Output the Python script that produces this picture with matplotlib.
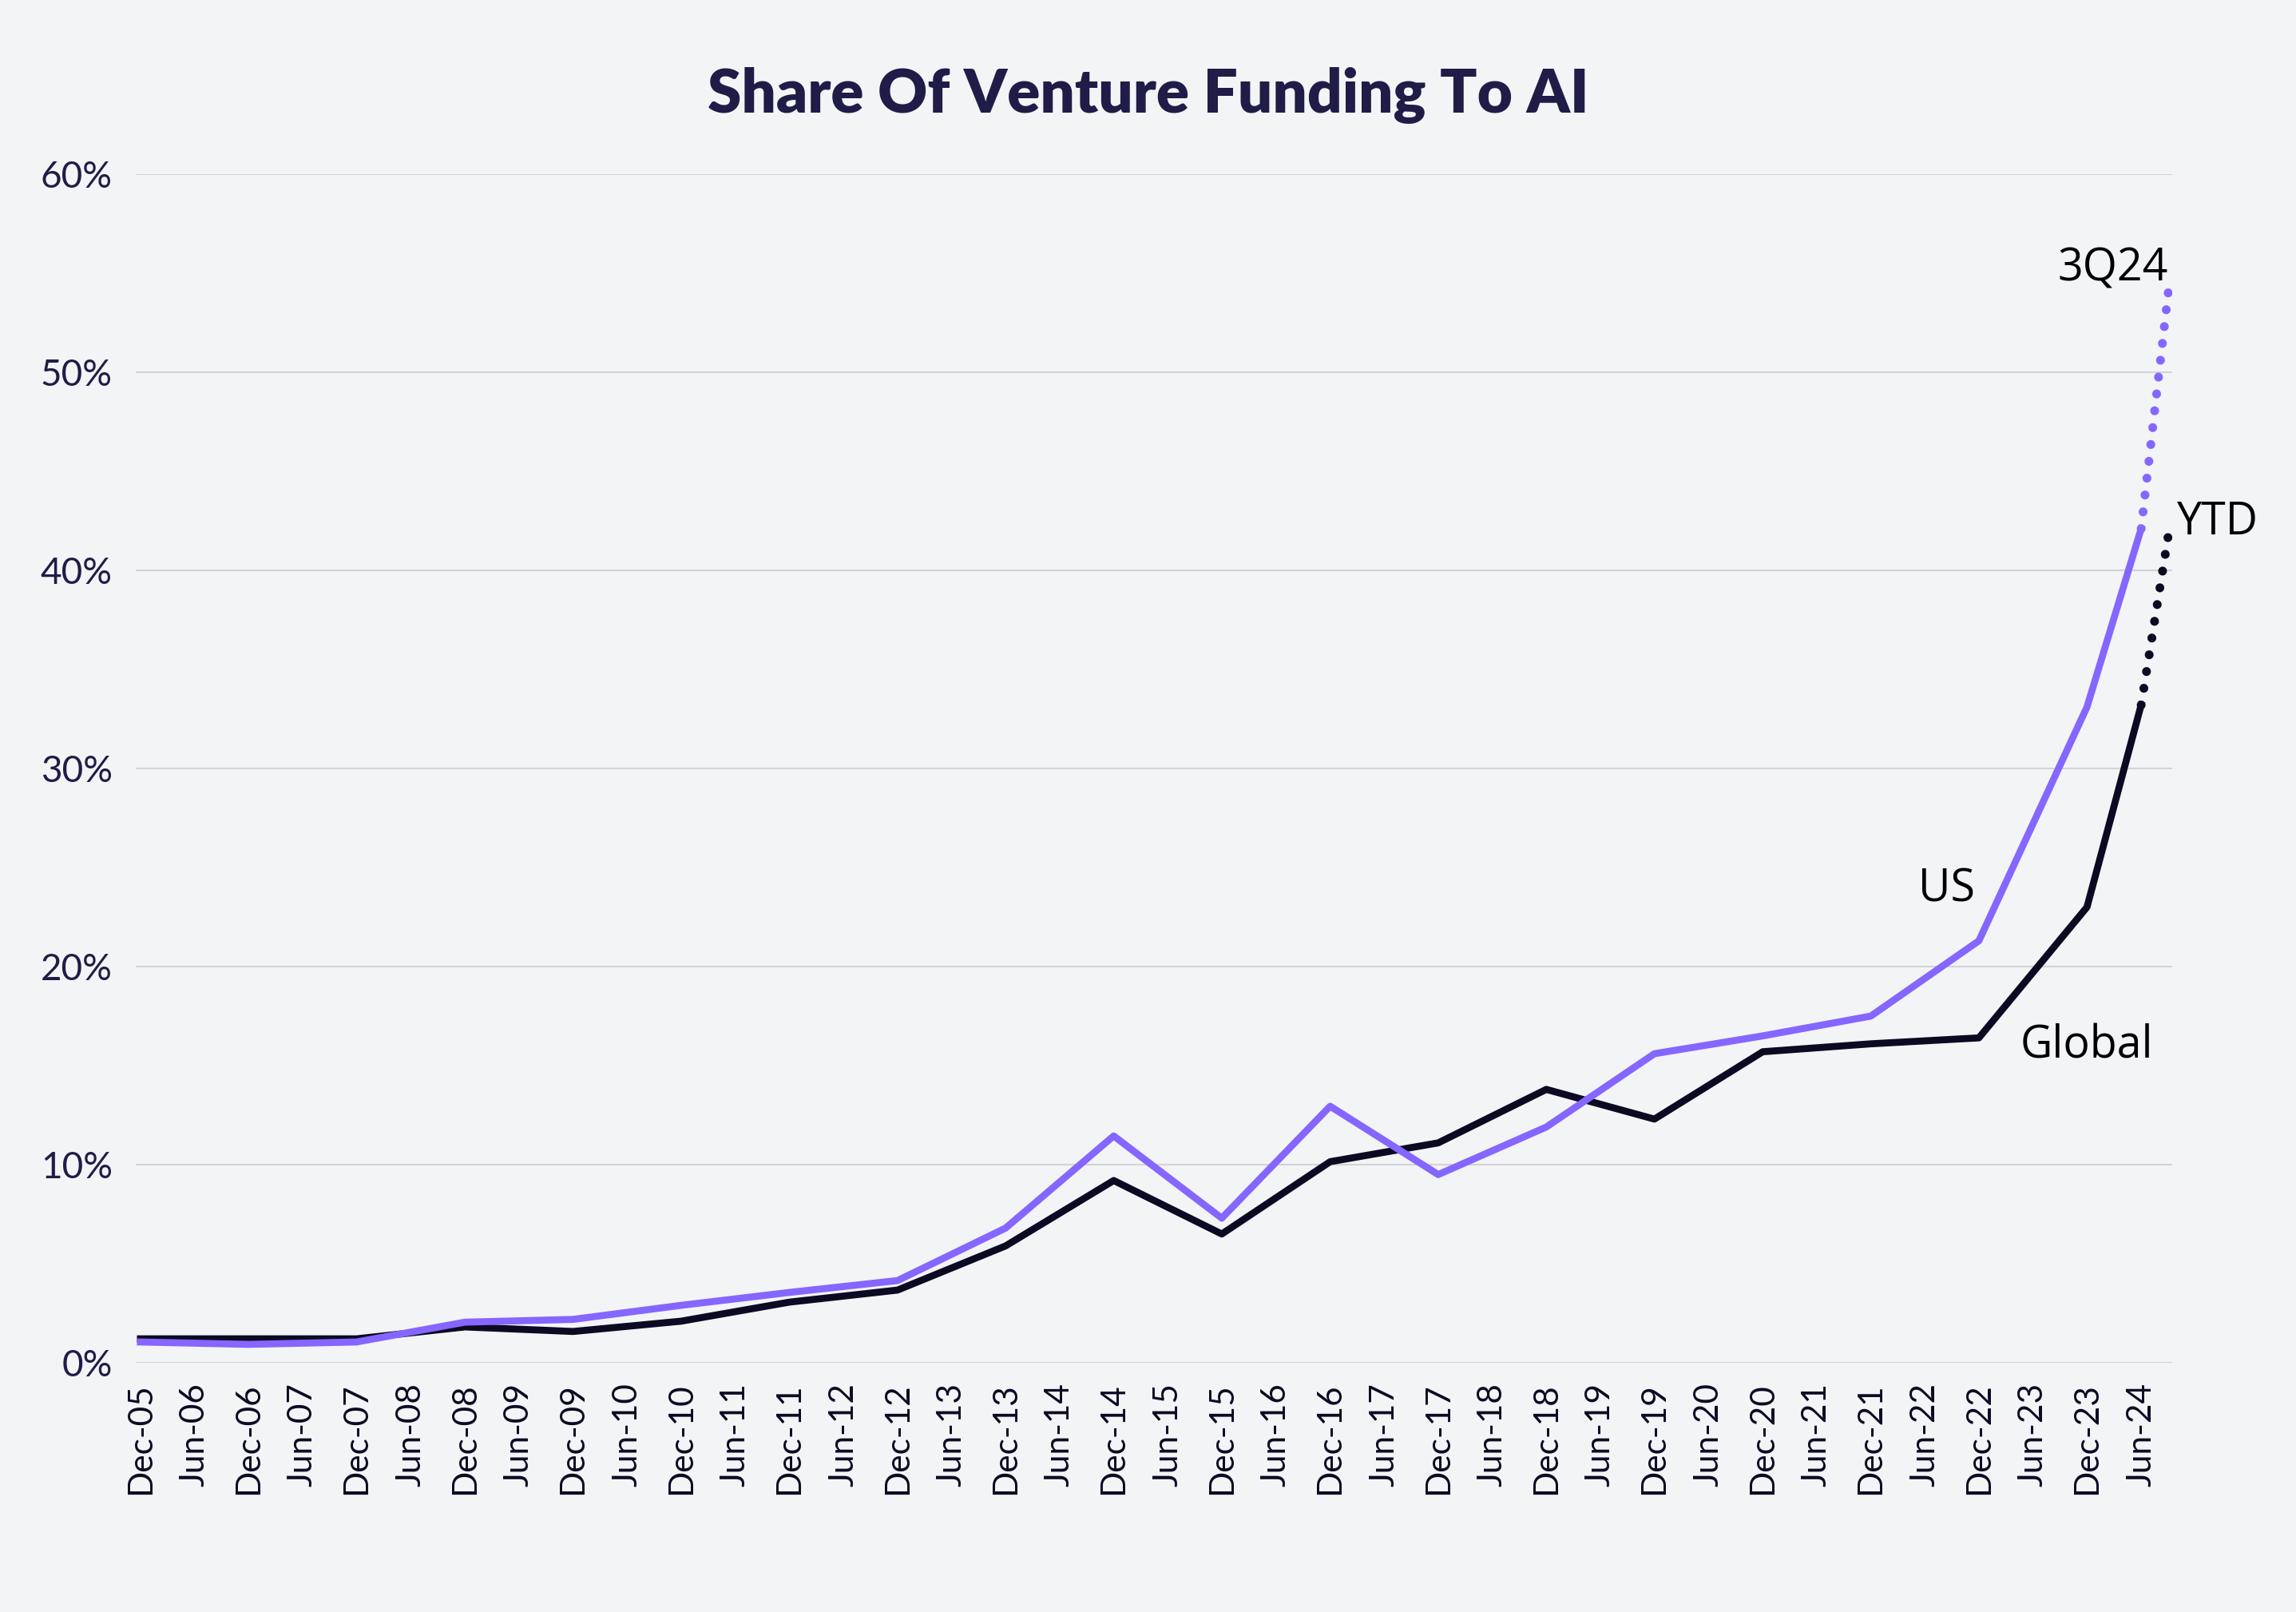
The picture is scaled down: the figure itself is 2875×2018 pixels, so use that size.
import pandas as pd
import matplotlib.pyplot as plt

# 데이터 (그림에서 읽은 값, %)
dates = pd.to_datetime(['2005-12-01', '2006-12-01', '2007-12-01', '2008-12-01', '2009-12-01',
                        '2010-12-01', '2011-12-01', '2012-12-01', '2013-12-01', '2014-12-01',
                        '2015-12-01', '2016-12-01', '2017-12-01', '2018-12-01', '2019-12-01',
                        '2020-12-01', '2021-12-01', '2022-12-01', '2023-12-01', '2024-06-01'])
us = [1.05, 0.93, 1.05, 2.05, 2.19, 2.9, 3.55, 4.15, 6.8, 11.45,
      7.3, 12.95, 9.5, 11.9, 15.6, 16.5, 17.5, 21.3, 33.1, 42.1]
global_share = [1.21, 1.21, 1.21, 1.81, 1.58, 2.1, 3.06, 3.67, 5.9, 9.2,
                6.5, 10.15, 11.1, 13.8, 12.3, 15.7, 16.1, 16.4, 23.0, 33.2]

# 3Q24 / YTD 연장 구간
ext_date = pd.Timestamp('2024-09-01')
us_3q24 = 54.1
global_ytd = 41.8

tick_dates = pd.date_range('2005-12-01', '2024-06-01', freq='6MS')
y_ticks = [0, 10, 20, 30, 40, 50, 60]

bg = '#f3f4f6'
purple = '#8566ff'
black = '#0b0a22'
navy = '#1f1d47'

fig = plt.figure(figsize=(28.75, 20.18), dpi=100, facecolor=bg)
ax = fig.add_axes([0.0591, 0.1546, 0.887, 0.7374], facecolor=bg)

# 선 그래프
ax.plot(dates, global_share, color=black, lw=6.3, solid_joinstyle='round', zorder=3)
ax.plot(dates, us, color=purple, lw=6.3, solid_joinstyle='round', zorder=4)
ax.plot([dates[-1], ext_date], [global_share[-1], global_ytd], color=black, lw=8,
        linestyle=(0, (0.01, 1.9)), dash_capstyle='round', zorder=3)
ax.plot([dates[-1], ext_date], [us[-1], us_3q24], color=purple, lw=8,
        linestyle=(0, (0.01, 1.9)), dash_capstyle='round', zorder=4)

ax.set_ylim(0, 60)
ax.set_xlim(pd.Timestamp('2005-11-15'), pd.Timestamp('2024-09-14'))
ax.set_yticks(y_ticks)
ax.set_yticklabels([f'{v}%' for v in y_ticks], fontsize=33, color=navy, family='Lato')
ax.set_xticks(tick_dates)
ax.set_xticklabels([d.strftime('%b-%y') for d in tick_dates], rotation=90,
                   fontsize=30.5, color=black, family='Lato', va='top')
ax.tick_params(axis='both', length=0)
ax.tick_params(axis='y', pad=21)
ax.tick_params(axis='x', pad=18)
ax.grid(axis='y', color='#d3d3d8', lw=1.5, zorder=0)
for s in ax.spines.values():
    s.set_visible(False)

# 라벨
ax.text(pd.Timestamp('2022-08-15'), 23.3, 'US', fontsize=40, color='black',
        family='Open Sans', ha='center', va='baseline')
ax.text(pd.Timestamp('2023-12-01'), 15.4, 'Global', fontsize=40, color='black',
        family='Open Sans', ha='center', va='baseline')
ax.text(pd.Timestamp('2024-09-01'), 54.6, '3Q24', fontsize=40, color='black',
        family='Open Sans', ha='right', va='baseline')
ax.text(pd.Timestamp('2024-10-01'), 41.8, 'YTD', fontsize=40, color='black',
        family='Open Sans', ha='left', va='baseline')

fig.text(0.5, 0.941, 'Share Of Venture Funding To AI', fontsize=55, fontweight='heavy',
         color=navy, family='Lato', ha='center', va='center')

plt.savefig('out.png', dpi=100, facecolor=bg)
